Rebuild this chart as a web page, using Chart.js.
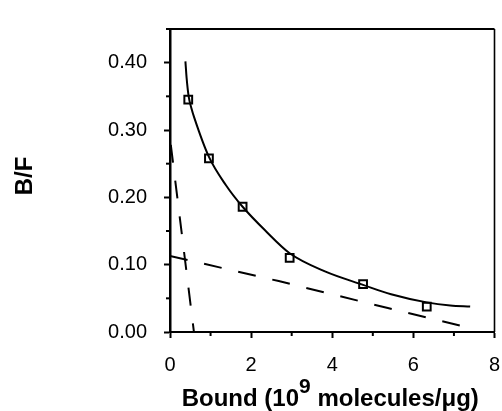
<!DOCTYPE html>
<html>
<head>
<meta charset="utf-8">
<script src="https://cdn.jsdelivr.net/npm/chart.js@4.4.1/dist/chart.umd.min.js"></script>
<style>
  html, body { margin: 0; padding: 0; background: #fff; }
</style>
</head>
<body>
<canvas id="scatchard" width="502" height="411"></canvas>
<script>
// measured binding points (Bound, B/F)
const boundVals = [0.45, 0.96, 1.79, 2.95, 4.76, 6.33];
const bfVals = [0.345, 0.258, 0.186, 0.110, 0.071, 0.0376];

// fitted curve
const fitBound = [0.38, 0.41, 0.46, 0.53, 0.60, 0.96, 1.38, 1.79, 2.36, 2.95, 3.82, 4.76, 5.45, 6.33, 6.91, 7.4];
const fitBF = [0.402, 0.377, 0.350, 0.332, 0.318, 0.260, 0.218, 0.186, 0.150, 0.117, 0.090, 0.070, 0.056, 0.044, 0.0395, 0.038];

// high affinity component (steep dashed line)
const highBound = [0.02, 0.59];
const highBF = [0.278, 0.0];

// low affinity component (shallow dashed line)
const lowBound = [0, 2.68, 5.37, 7.36];
const lowBF = [0.113, 0.0756, 0.0356, 0.0066];

const xTicks = [0, 2, 4, 6, 8];
const xMinor = [1, 3, 5, 7];
const yTicks = [0, 0.1, 0.2, 0.3, 0.4];
const yMinor = [0.05, 0.15, 0.25, 0.35];

function pts(xs, ys) {
  return xs.map((x, i) => ({ x: x, y: ys[i] }));
}

const framePlugin = {
  id: 'frame',
  afterDraw(chart) {
    const ctx = chart.ctx;
    const a = chart.chartArea;
    const xs = chart.scales.x;
    const ys = chart.scales.y;
    ctx.save();
    ctx.strokeStyle = '#000';
    // top and right border
    ctx.lineWidth = 2;
    ctx.beginPath();
    ctx.moveTo(a.left - 4, a.top);
    ctx.lineTo(a.right, a.top);
    ctx.stroke();
    ctx.lineWidth = 1.6;
    ctx.beginPath();
    ctx.moveTo(a.right, a.top);
    ctx.lineTo(a.right, a.bottom);
    ctx.stroke();
    // minor ticks
    ctx.lineWidth = 2;
    xMinor.forEach(v => {
      const px = xs.getPixelForValue(v);
      ctx.beginPath();
      ctx.moveTo(px, a.bottom);
      ctx.lineTo(px, a.bottom + 4);
      ctx.stroke();
    });
    yMinor.forEach(v => {
      const py = ys.getPixelForValue(v);
      ctx.beginPath();
      ctx.moveTo(a.left - 4, py);
      ctx.lineTo(a.left, py);
      ctx.stroke();
    });
    // axis titles
    ctx.fillStyle = '#000';
    ctx.font = 'bold 24px "Liberation Sans", Arial, sans-serif';
    ctx.textBaseline = 'alphabetic';
    const p1 = 'Bound (10';
    const sup = '9';
    const p2 = ' molecules/\u03bcg)';
    const w1 = ctx.measureText(p1).width;
    const w2 = ctx.measureText(p2).width;
    ctx.font = 'bold 21px "Liberation Sans", Arial, sans-serif';
    const ws = ctx.measureText(sup).width;
    const total = w1 + ws + w2;
    let x0 = (a.left + a.right) / 2 - total / 2 - 2;
    const base = 406;
    ctx.font = 'bold 24px "Liberation Sans", Arial, sans-serif';
    ctx.textAlign = 'left';
    ctx.fillText(p1, x0, base);
    ctx.font = 'bold 21px "Liberation Sans", Arial, sans-serif';
    ctx.fillText(sup, x0 + w1, base - 13);
    ctx.font = 'bold 24px "Liberation Sans", Arial, sans-serif';
    ctx.fillText(p2, x0 + w1 + ws, base);
    // y title
    ctx.save();
    ctx.translate(32, 176);
    ctx.rotate(-Math.PI / 2);
    ctx.textAlign = 'center';
    ctx.fillText('B/F', 0, 0);
    ctx.restore();
    ctx.restore();
  }
};

const ctx = document.getElementById('scatchard').getContext('2d');
new Chart(ctx, {
  type: 'scatter',
  data: {
    datasets: [
      {
        data: pts(fitBound, fitBF),
        showLine: true,
        borderColor: '#000',
        borderWidth: 2,
        pointRadius: 0,
        cubicInterpolationMode: 'monotone'
      },
      {
        data: pts(highBound, highBF),
        showLine: true,
        borderColor: '#000',
        borderWidth: 2,
        borderDash: [18, 18],
        pointRadius: 0
      },
      {
        data: pts(lowBound, lowBF),
        showLine: true,
        borderColor: '#000',
        borderWidth: 2,
        borderDash: [18, 17],
        pointRadius: 0
      },
      {
        data: pts(boundVals, bfVals),
        showLine: false,
        pointStyle: 'rect',
        pointRadius: 5.5,
        borderWidth: 2,
        borderColor: '#000',
        backgroundColor: '#fff'
      },
      {
        data: pts(boundVals, bfVals),
        showLine: false,
        pointRadius: 1,
        borderWidth: 0,
        backgroundColor: '#000'
      }
    ]
  },
  options: {
    responsive: false,
    animation: false,
    layout: { padding: { top: 12, right: 4, left: 0, bottom: 0 } },
    plugins: {
      legend: { display: false },
      tooltip: { enabled: false }
    },
    scales: {
      x: {
        type: 'linear',
        min: 0,
        max: 8,
        afterFit: function (scale) {
          scale.height = 79;
          scale.paddingLeft = 0;
          scale.paddingRight = 0;
        },
        afterBuildTicks: function (scale) {
          scale.ticks = xTicks.map(v => ({ value: v }));
        },
        ticks: {
          color: '#000',
          padding: 15,
          maxRotation: 0,
          font: { family: '"Liberation Sans", Arial, sans-serif', size: 20 },
          callback: v => String(v)
        },
        grid: { drawOnChartArea: false, drawTicks: true, tickLength: 6, tickWidth: 2, tickColor: '#000' },
        border: { display: true, color: '#000', width: 2 }
      },
      y: {
        type: 'linear',
        min: 0,
        max: 0.45,
        afterFit: function (scale) {
          scale.width = 170;
        },
        afterBuildTicks: function (scale) {
          scale.ticks = yTicks.map(v => ({ value: v }));
        },
        ticks: {
          color: '#000',
          padding: 17,
          font: { family: '"Liberation Sans", Arial, sans-serif', size: 20 },
          callback: v => v.toFixed(2)
        },
        grid: { drawOnChartArea: false, drawTicks: true, tickLength: 6, tickWidth: 2, tickColor: '#000' },
        border: { display: true, color: '#000', width: 2.5 }
      }
    }
  },
  plugins: [framePlugin]
});
</script>
</body>
</html>
